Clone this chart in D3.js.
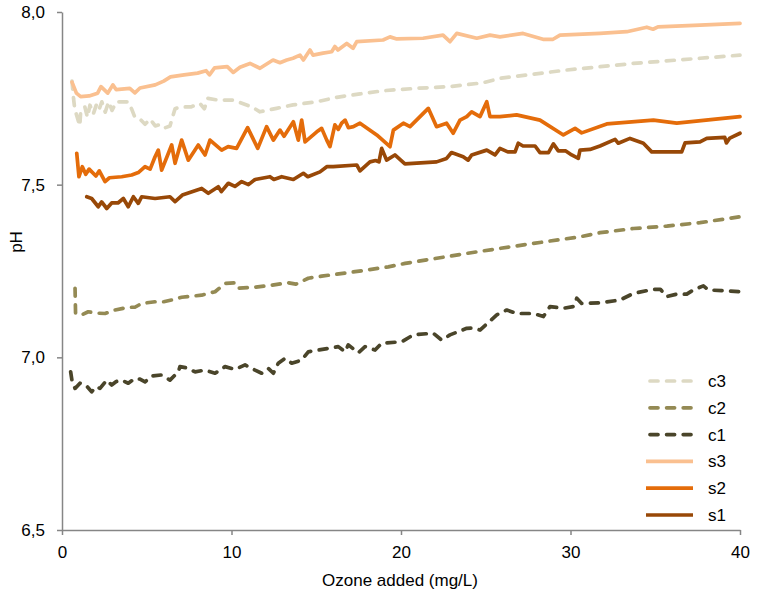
<!DOCTYPE html>
<html><head><meta charset="utf-8">
<script src="https://cdn.jsdelivr.net/npm/d3@7/dist/d3.min.js"></script>
<style>
body{margin:0;background:#fff;}
text{font-family:"Liberation Sans",Arial,sans-serif;}
</style></head>
<body><svg id="chart" width="762" height="600"></svg>
<script>
// ---- data (ozone added mg/L, pH) ----
const xTicks = [0, 10, 20, 30, 40];
const yTicks = [6.5, 7.0, 7.5, 8.0];
const seriesNames = ["c3", "c2", "c1", "s3", "s2", "s1"];
const seriesColors = ["#DDD9C3", "#948A54", "#4A452A", "#FAC090", "#E46C0A", "#984807"];
const seriesDashed = [true, true, true, false, false, false];

const s3 = [[0.59,7.797],[0.85,7.765],[1.1,7.755],[1.6,7.757],[2.1,7.765],[2.3,7.784],[2.7,7.765],[3.0,7.789],[3.2,7.775],[4.0,7.779],[4.3,7.766],[4.6,7.78],[5.5,7.789],[6.0,7.80],[6.4,7.812],[7.2,7.818],[8.0,7.823],[8.5,7.83],[8.7,7.818],[9.0,7.838],[9.75,7.842],[10.1,7.825],[10.5,7.84],[11.09,7.851],[11.68,7.837],[12.45,7.861],[12.86,7.853],[13.26,7.861],[13.63,7.866],[14.04,7.875],[14.24,7.861],[14.63,7.890],[14.81,7.875],[15.4,7.881],[15.91,7.885],[16.1,7.900],[16.28,7.890],[16.8,7.909],[17.17,7.895],[17.39,7.914],[18.94,7.919],[19.35,7.928],[19.75,7.922],[21.3,7.924],[22.48,7.933],[22.89,7.914],[23.29,7.938],[24.47,7.924],[25.25,7.933],[25.84,7.928],[27.2,7.938],[28.38,7.921],[28.97,7.921],[29.38,7.933],[31.74,7.938],[33.32,7.943],[34.5,7.956],[34.87,7.950],[35.16,7.957],[37.64,7.962],[40,7.967]];

const c3 = [[0.59,7.80],[0.68,7.75],[0.75,7.72],[1.05,7.67],[1.1,7.71],[1.35,7.725],[1.5,7.695],[1.65,7.73],[1.85,7.705],[2.05,7.735],[2.2,7.72],[2.35,7.74],[2.55,7.71],[2.75,7.74],[2.95,7.715],[3.2,7.74],[3.6,7.74],[3.9,7.74],[4.1,7.72],[4.3,7.695],[4.6,7.69],[4.9,7.675],[5.2,7.69],[5.5,7.67],[5.84,7.675],[6.1,7.665],[6.37,7.67],[6.67,7.72],[7.0,7.725],[7.6,7.725],[8.14,7.735],[8.4,7.72],[8.6,7.75],[9.2,7.745],[10.1,7.745],[11.2,7.725],[11.68,7.711],[12.66,7.721],[13.63,7.731],[15.03,7.74],[16.21,7.753],[17.58,7.763],[18.94,7.772],[20.93,7.779],[22.89,7.784],[24.84,7.795],[25.84,7.808],[29.78,7.832],[33.69,7.851],[37.64,7.866],[40,7.875]];

const s2 = [[0.87,7.591],[1.0,7.523],[1.2,7.552],[1.4,7.53],[1.6,7.545],[2.0,7.525],[2.2,7.54],[2.54,7.509],[2.8,7.52],[3.52,7.523],[4.11,7.528],[4.5,7.535],[4.9,7.552],[5.2,7.545],[5.49,7.581],[5.68,7.60],[5.88,7.542],[6.47,7.615],[6.67,7.562],[7.06,7.629],[7.45,7.571],[8.04,7.615],[8.44,7.586],[8.73,7.629],[9.42,7.60],[9.8,7.61],[10.3,7.605],[10.95,7.665],[11.55,7.605],[12.07,7.668],[12.47,7.629],[12.86,7.658],[13.1,7.64],[13.65,7.682],[13.94,7.629],[14.14,7.687],[14.34,7.624],[15.03,7.653],[15.32,7.663],[15.62,7.629],[15.81,7.61],[16.1,7.673],[16.3,7.66],[16.5,7.678],[16.7,7.687],[16.9,7.665],[17.19,7.668],[17.58,7.678],[18.57,7.644],[19.35,7.61],[19.55,7.658],[20.14,7.678],[20.53,7.668],[21.61,7.721],[22.1,7.668],[22.69,7.678],[23.08,7.649],[23.48,7.687],[23.88,7.697],[24.17,7.711],[24.66,7.697],[25.06,7.74],[25.25,7.697],[25.84,7.697],[26.82,7.702],[28.2,7.687],[29.58,7.644],[30.27,7.663],[30.66,7.65],[32.14,7.676],[34.89,7.687],[36.27,7.678],[40,7.697]];

const s1 = [[1.46,7.465],[1.75,7.46],[2.14,7.436],[2.34,7.45],[2.64,7.431],[2.93,7.447],[3.3,7.447],[3.62,7.46],[3.91,7.436],[4.21,7.465],[4.5,7.446],[4.7,7.465],[5.49,7.46],[6.37,7.465],[6.67,7.451],[7.1,7.47],[8.24,7.489],[8.63,7.475],[9.22,7.494],[9.4,7.48],[9.81,7.504],[10.2,7.495],[10.6,7.509],[11.0,7.5],[11.39,7.515],[12.27,7.523],[12.5,7.515],[12.96,7.523],[13.65,7.515],[14.24,7.533],[14.5,7.523],[15.22,7.537],[15.62,7.552],[16.0,7.552],[17.39,7.557],[17.58,7.54],[18.17,7.566],[18.5,7.57],[18.7,7.566],[18.86,7.605],[19.15,7.571],[19.64,7.586],[20.23,7.56],[22.1,7.566],[22.69,7.576],[22.98,7.593],[23.67,7.581],[23.96,7.571],[24.17,7.586],[25.06,7.60],[25.55,7.586],[25.84,7.605],[26.3,7.595],[26.73,7.595],[26.92,7.62],[27.2,7.612],[27.91,7.612],[28.2,7.593],[28.7,7.593],[28.99,7.618],[29.28,7.598],[29.7,7.598],[30.07,7.586],[30.46,7.576],[30.56,7.60],[31.15,7.602],[31.74,7.612],[32.63,7.631],[32.82,7.62],[33.51,7.634],[34.3,7.62],[34.79,7.595],[36.56,7.595],[36.76,7.621],[37.64,7.624],[38.04,7.634],[39.1,7.637],[39.2,7.621],[39.4,7.635],[40,7.649]];

const c2 = [[0.77,7.20],[0.8,7.127],[1.16,7.123],[1.55,7.132],[2.0,7.128],[2.54,7.127],[3.13,7.137],[3.91,7.145],[4.3,7.145],[4.7,7.156],[5.49,7.161],[6.0,7.161],[6.47,7.166],[7.06,7.174],[8.24,7.18],[9.03,7.19],[9.62,7.214],[10.21,7.216],[10.4,7.20],[11.39,7.203],[12.37,7.209],[13.35,7.216],[13.8,7.212],[14.53,7.229],[15.32,7.235],[17.29,7.248],[19.25,7.262],[20.24,7.272],[23.88,7.301],[27.81,7.33],[30.56,7.349],[31.74,7.361],[33.71,7.373],[35.68,7.38],[37.64,7.39],[40,7.407]];

const c1 = [[0.51,6.958],[0.6,6.929],[0.77,6.91],[1.06,6.925],[1.4,6.92],[1.75,6.9],[2.0,6.915],[2.24,6.91],[2.64,6.934],[2.93,6.92],[3.2,6.93],[3.52,6.934],[3.91,6.925],[4.31,6.939],[4.6,6.937],[4.9,6.929],[5.29,6.946],[5.88,6.949],[6.37,6.934],[6.86,6.958],[6.96,6.973],[7.3,6.97],[7.85,6.958],[8.44,6.963],[9.03,6.954],[9.62,6.973],[10.21,6.965],[10.8,6.978],[11.39,6.963],[11.78,6.954],[12.17,6.968],[12.47,6.954],[12.76,6.983],[13.16,6.997],[13.55,6.983],[14.14,6.992],[14.53,7.016],[15.12,7.021],[15.71,7.026],[16.3,7.031],[16.7,7.016],[16.89,7.036],[17.48,7.013],[17.88,7.031],[18.47,7.021],[18.86,7.041],[20.04,7.045],[20.73,7.065],[21.9,7.07],[22.4,7.05],[22.89,7.065],[23.88,7.084],[24.3,7.085],[24.66,7.079],[25.65,7.123],[26.24,7.137],[26.82,7.127],[27.81,7.127],[28.4,7.118],[28.79,7.147],[29.58,7.142],[30.17,7.147],[30.37,7.171],[30.66,7.156],[31.74,7.158],[32.92,7.166],[33.71,7.185],[34.89,7.197],[35.3,7.197],[35.68,7.176],[36.27,7.183],[36.86,7.183],[37.25,7.195],[37.84,7.207],[38.14,7.195],[39.02,7.193],[40,7.19]];

const seriesData = [c3, c2, c1, s3, s2, s1];

// ---- drawing ----
const svg = d3.select("#chart");
const margin = {left: 62, right: 22, top: 12, bottom: 70};
const W = 762, H = 600;
const FS = "17px";
const x = d3.scaleLinear().domain([0, 40]).range([margin.left, W - margin.right]);
const y = d3.scaleLinear().domain([6.5, 8.0]).range([H - margin.bottom, margin.top]);
const fmt = d => d3.format(".1f")(d).replace(".", ",");
const axisColor = "#868686";

const gx = svg.append("g").attr("transform", `translate(0,${y(6.5)})`)
  .call(d3.axisBottom(x).tickValues(xTicks).tickSize(5).tickPadding(11).tickSizeOuter(0));
const gy = svg.append("g").attr("transform", `translate(${x(0)},0)`)
  .call(d3.axisLeft(y).tickValues(yTicks).tickFormat(fmt).tickSize(5).tickPadding(12).tickSizeOuter(0));
[gx, gy].forEach(g => {
  g.select(".domain").attr("stroke", axisColor).attr("stroke-width", 1.5);
  g.selectAll(".tick line").attr("stroke", axisColor).attr("stroke-width", 1.5);
  g.selectAll(".tick text").attr("fill", "#000").style("font-size", FS)
   .style("font-family", '"Liberation Sans",Arial,sans-serif');
});

const line = d3.line().x(d => x(d[0])).y(d => y(d[1]));
seriesData.forEach((data, i) => {
  svg.append("path").datum(data).attr("d", line)
    .attr("fill", "none").attr("stroke", seriesColors[i])
    .attr("stroke-width", 3.7)
    .attr("stroke-linejoin", "round")
    .attr("stroke-linecap", "round")
    .attr("stroke-dasharray", seriesDashed[i] ? "8,8.6" : null);
});

// axis titles
svg.append("text").attr("x", 400).attr("y", 586).attr("text-anchor", "middle")
  .style("font-size", FS).attr("fill", "#000").text("Ozone added (mg/L)");
svg.append("text").attr("transform", "translate(22,242) rotate(-90)").attr("text-anchor", "middle")
  .style("font-size", FS).attr("fill", "#000").text("pH");

// legend
const lg = svg.append("g");
seriesNames.forEach((name, i) => {
  const yy = 381 + i * 26.8;
  lg.append("line").attr("x1", seriesDashed[i] ? 650 : 646).attr("x2", seriesDashed[i] ? 691 : 693)
    .attr("y1", yy).attr("y2", yy)
    .attr("stroke", seriesColors[i]).attr("stroke-width", 3.7)
    .attr("stroke-linecap", seriesDashed[i] ? "round" : "butt")
    .attr("stroke-dasharray", seriesDashed[i] ? "8,8.6" : null);
  lg.append("text").attr("x", 708).attr("y", yy).attr("dy", "0.35em")
    .style("font-size", FS).attr("fill", "#000").text(name);
});
</script></body></html>
